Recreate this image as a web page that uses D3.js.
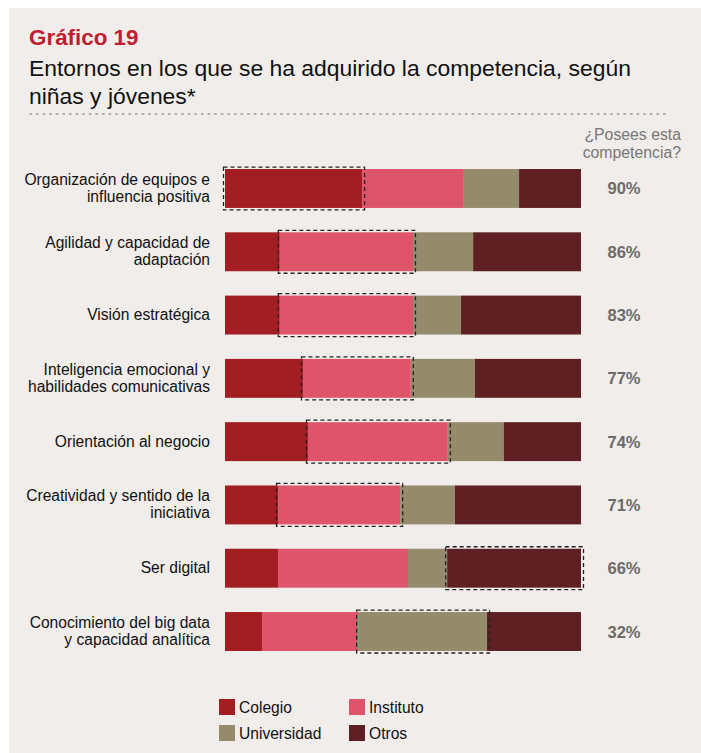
<!DOCTYPE html>
<html>
<head>
<meta charset="utf-8">
<script src="https://cdn.jsdelivr.net/npm/d3@7/dist/d3.min.js"></script>
<style>
  html, body { margin: 0; padding: 0; background: #ffffff; }
  svg { display: block; font-family: "Liberation Sans", Arial, Helvetica, sans-serif; }
</style>
</head>
<body>
<svg id="chart" width="701" height="753"></svg>
<script>
// Competencias (una línea de texto por elemento)
const categories = [
  ["Organización de equipos e", "influencia positiva"],
  ["Agilidad y capacidad de", "adaptación"],
  ["Visión estratégica"],
  ["Inteligencia emocional y", "habilidades comunicativas"],
  ["Orientación al negocio"],
  ["Creatividad y sentido de la", "iniciativa"],
  ["Ser digital"],
  ["Conocimiento del big data", "y capacidad analítica"]
];

// Reparto por entorno (% de cada barra)
const seriesNames = ["Colegio", "Instituto", "Universidad", "Otros"];
const colegio     = [38.5, 15.4, 15.4, 21.9, 23.3, 14.9, 14.9, 10.4];
const instituto   = [28.6, 37.4, 37.4, 30.3, 39.3, 34.3, 36.5, 27.0];
const universidad = [15.5, 16.9, 13.5, 18.0, 15.7, 15.4, 11.0, 36.2];
const otros       = [17.4, 30.3, 33.7, 29.8, 21.7, 35.4, 37.6, 26.4];

// Entorno principal de cada competencia (se recuadra)
const highlight = ["Colegio", "Instituto", "Instituto", "Instituto", "Instituto", "Instituto", "Otros", "Universidad"];

// ¿Posees esta competencia?
const posees = [90, 86, 83, 77, 74, 71, 66, 32];

const colors = ["#a21e22", "#de546b", "#958a6c", "#5e2022"];

const rows = categories.map((c, i) => ({
  key: i,
  label: c,
  Colegio: colegio[i],
  Instituto: instituto[i],
  Universidad: universidad[i],
  Otros: otros[i],
  hl: highlight[i],
  pct: posees[i]
}));

const svg = d3.select("#chart");

// Fondo del panel
svg.append("rect").attr("x", 9).attr("y", 8).attr("width", 692).attr("height", 745).attr("fill", "#f0edea");

// Títulos
svg.append("text").attr("x", 29).attr("y", 45)
  .attr("fill", "#c0202e").attr("font-size", 22.4).attr("font-weight", "bold")
  .text("Gráfico 19");
svg.append("text").attr("x", 29).attr("y", 76)
  .attr("fill", "#111").attr("font-size", 22.9)
  .text("Entornos en los que se ha adquirido la competencia, según");
svg.append("text").attr("x", 29).attr("y", 104)
  .attr("fill", "#111").attr("font-size", 22.9)
  .text("niñas y jóvenes*");

// Línea de puntos
svg.append("line").attr("x1", 30).attr("x2", 670).attr("y1", 114).attr("y2", 114)
  .attr("stroke", "#9a9a9a").attr("stroke-width", 1.6)
  .attr("stroke-dasharray", "1.4 5.2").attr("stroke-linecap", "round");

// Encabezado de la columna de porcentajes
const head = svg.append("text").attr("text-anchor", "end").attr("fill", "#777").attr("font-size", 15.8);
head.append("tspan").attr("x", 681).attr("y", 140).text("¿Posees esta");
head.append("tspan").attr("x", 681).attr("y", 158).text("competencia?");

// Escalas
const x = d3.scaleLinear().domain([0, 100]).range([225, 581]);
const y = d3.scaleBand().domain(d3.range(categories.length)).range([157, 663]).paddingInner(0.385).paddingOuter(0.19);

const stack = d3.stack().keys(seriesNames)(rows);
const color = d3.scaleOrdinal().domain(seriesNames).range(colors);

svg.append("g").selectAll("g").data(stack).join("g")
  .attr("fill", d => color(d.key))
  .selectAll("rect").data(d => d).join("rect")
  .attr("x", d => x(d[0]))
  .attr("y", (d, i) => y(i))
  .attr("width", d => x(d[1]) - x(d[0]))
  .attr("height", y.bandwidth());

// Recuadro discontinuo del entorno principal
svg.append("g").selectAll("rect").data(rows).join("rect")
  .attr("x", d => {
    const s = stack.find(s => s.key === d.hl)[d.key];
    return x(s[0]) - 1.5;
  })
  .attr("width", d => {
    const s = stack.find(s => s.key === d.hl)[d.key];
    return x(s[1]) - x(s[0]) + 4;
  })
  .attr("y", d => y(d.key) - 2)
  .attr("height", y.bandwidth() + 4)
  .attr("fill", "none").attr("stroke", "#222").attr("stroke-width", 1.3)
  .attr("stroke-dasharray", "4 3");

// Etiquetas de categoría
const lab = svg.append("g").selectAll("text").data(rows).join("text")
  .attr("text-anchor", "end").attr("fill", "#111").attr("font-size", 15.6);
lab.each(function(d) {
  const cy = y(d.key) + y.bandwidth() / 2;
  const n = d.label.length;
  d3.select(this).selectAll("tspan").data(d.label).join("tspan")
    .attr("x", 210)
    .attr("y", (t, j) => cy + 5 + (j - (n - 1) / 2) * 17)
    .text(t => t);
});

// Porcentajes
svg.append("g").selectAll("text").data(rows).join("text")
  .attr("x", 624).attr("y", d => y(d.key) + y.bandwidth() / 2 + 6)
  .attr("text-anchor", "middle").attr("fill", "#6b6b6b")
  .attr("font-size", 16.5).attr("font-weight", "bold")
  .text(d => d.pct + "%");

// Leyenda
const legend = svg.append("g").selectAll("g").data(seriesNames).join("g")
  .attr("transform", (d, i) => `translate(${219 + (i % 2) * 130},${699 + Math.floor(i / 2) * 26})`);
legend.append("rect").attr("width", 16).attr("height", 16).attr("fill", d => color(d));
legend.append("text").attr("x", 20).attr("y", 14).attr("fill", "#111").attr("font-size", 15.6).text(d => d);
</script>
</body>
</html>
